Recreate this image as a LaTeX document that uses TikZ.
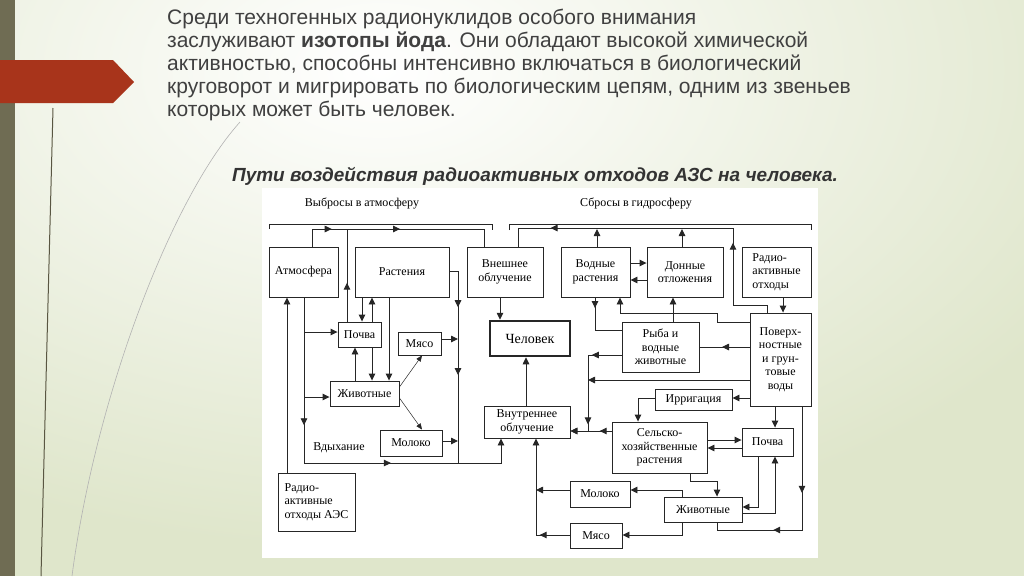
\documentclass[tikz,border=0pt]{standalone}
\usepackage{fontspec}
\setmainfont{Liberation Sans}
\newfontfamily\dgm{Liberation Serif}
\usetikzlibrary{arrows.meta,decorations.markings,calc}
\definecolor{bggreen}{HTML}{DFE6CB}
\definecolor{bandc}{HTML}{6F6C53}
\definecolor{redc}{HTML}{A8341B}
\definecolor{titlec}{HTML}{404040}
\newcommand\mybox[7][]{\node[box,#1,minimum width={(#5-#3)*1pt},minimum height={(#6-#4)*1pt}] (#2) at ({(#3+#5)/2},{(#4+#6)/2}) {#7};}
\tikzset{
 box/.style={draw=black!85, line width=0.9pt, fill=white, inner sep=0pt, font=\dgm\fontsize{12}{13.5}\selectfont, align=center},
 con/.style={color=black!85, line width=0.9pt},
 arr/.style={con, -{Triangle[length=7pt,width=6.5pt]}},
 tarr/.style={color=black!85, line width=0.5pt, -{Triangle[length=6pt,width=5pt]}},
 marr/.style={postaction={decorate,decoration={markings,mark=at position #1 with {\arrow{Triangle[length=7pt,width=6.5pt]}}}}},
 lbl/.style={font=\dgm\fontsize{12}{13.5}\selectfont, inner sep=0pt},
 ttl/.style={font=\fontsize{21}{23}\selectfont, text=titlec, inner sep=0pt, anchor=base west},
}
\begin{document}
\begin{tikzpicture}[x=1pt,y=-1pt]
\useasboundingbox (0,0) rectangle (1024,576);
% background
\fill[bggreen] (0,0) rectangle (1024,576);
\shade[inner color=white, outer color=bggreen] (380,70) ellipse [x radius=800, y radius=480];
\fill[bandc] (0,0) rectangle (15,576);
\fill[redc] (0,60) -- (113,60) -- (134,82) -- (113,103) -- (0,103) -- cycle;
\draw[bandc!80!black, line width=1pt] (53,108) -- (41,576);
\draw[black!30, line width=0.6pt] (240,122) .. controls (170,200) and (95,400) .. (72,576);
% title text
\node[ttl] (t1) at (167,24) {Среди техногенных радионуклидов особого внимания};
\node[ttl] (t2) at (167,47) {заслуживают \textbf{изотопы йода}. Они обладают высокой химической};
\node[ttl] (t3) at (167,70) {активностью, способны интенсивно включаться в биологический};
\node[ttl] (t4) at (167,93) {круговорот и мигрировать по биологическим цепям, одним из звеньев};
\node[ttl] (t5) at (167,116) {которых может быть человек.};
\node[font=\fontsize{19}{21}\selectfont\bfseries\itshape, text=black!80, inner sep=0pt] (sub) at (535,176) {Пути воздействия радиоактивных отходов АЗС на человека.};
% diagram panel
\fill[white] (262,188) rectangle (818,558);
\node[lbl] (lA) at (362,203) {Выбросы в атмосферу};
\node[lbl] (lG) at (636,203) {Сбросы в гидросферу};
\node[lbl] (lV) at (339,448) {Вдыхание};
\draw[con] (269,229) |- (492,224) -- (492,230);
\draw[con] (509,230) |- (811,224) -- (811,230);
% boxes
\mybox{atm}{269}{247}{338}{297}{Атмосфера}
\mybox{rast}{355}{247}{449}{297}{Растения}
\mybox{vnesh}{467}{247}{543}{297}{Внешнее\\облучение}
\mybox{vodn}{561}{247}{630}{297}{Водные\\растения}
\mybox{donn}{647}{247}{723}{297}{Донные\\отложения}
\mybox[align=left]{radw}{742}{247}{811}{297}{Радио-\\активные\\отходы}
\mybox{poch1}{338}{322}{381}{347}{Почва}
\mybox{mya1}{398}{332}{441}{355}{Мясо}
\mybox{zhi1}{330}{381}{399}{406}{Животные}
\mybox{mol1}{380}{430}{442}{456}{Молоко}
\mybox[line width=2.5pt, font=\dgm\fontsize{14}{16}\selectfont]{chel}{490}{321}{570}{356}{Человек}
\mybox{vnu}{484}{406}{570}{438}{Внутреннее\\облучение}
\mybox{ryba}{622}{322}{699}{372}{Рыба и\\водные\\животные}
\mybox{pov}{750}{313}{811}{406}{Поверх-\\ностные\\и грун-\\товые\\воды}
\mybox{irr}{655}{389}{732}{410}{Ирригация}
\mybox{sel}{612}{422}{707}{473}{Сельско-\\хозяйственные\\растения}
\mybox{poch2}{742}{428}{793}{456}{Почва}
\mybox{mol2}{570}{481}{630}{507}{Молоко}
\mybox{zhi2}{664}{497}{742}{522}{Животные}
\mybox{mya2}{570}{523}{622}{548}{Мясо}
\mybox[align=left]{aes}{278}{473}{355}{531}{Радио-\\активные\\отходы АЭС}
% connectors left part
\draw[con, marr=0.18, marr=0.51] (atm.north -| 312,0) |- (484,229) -- (vnesh.north -| 484,0);
\draw[con, marr=0.42] (poch1.north -| 347,0) -- (347,229);
\draw[arr] (rast.south -| 362,0) -- (poch1.north -| 362,0);
\draw[arr] (poch1.north -| 372,0) -- (rast.south -| 372,0);
\draw[arr] (poch1.south -| 372,0) -- (zhi1.north -| 372,0);
\draw[arr] (zhi1.north -| 355,0) -- (poch1.south -| 355,0);
\draw[arr] (rast.south -| 389,0) -- (zhi1.north -| 389,0);
\draw[arr] (aes.north -| 287,0) -- (atm.south -| 287,0);
\draw[con, marr=0.40, marr=0.79] (atm.south -| 304,0) -- (304,463) -- (458,463);
\draw[arr] (304,332) -- (poch1.west |- 0,332);
\draw[arr] (304,397) -- (zhi1.west |- 0,397);
\draw[arr, marr=0.167, marr=0.42] (rast.east |- 0,271) -| (458,463) -| (vnu.south -| 501,0);
\draw[arr] (mya1.east |- 0,339) -- (458,339);
\draw[arr] (mol1.east |- 0,441) -- (458,441);
\draw[tarr] (zhi1.east |- 0,387) -- (mya1.south -| 422,0);
\draw[tarr] (zhi1.east |- 0,398) -- (mol1.north -| 422,0);
% center
\draw[arr] (vnesh.south -| 500,0) -- (chel.north -| 500,0);
\draw[arr] (vnu.north -| 526,0) -- (chel.south -| 526,0);
% right part
\draw[con, marr=0.295, marr=0.855] (pov.north -| 767,0) -- (767,305) -| (733,228) -| (vnesh.north -| 518,0);
\draw[arr] (vodn.north -| 597,0) -- (597,229);
\draw[arr] (donn.north -| 682,0) -- (682,229);
\draw[arr] (vodn.east |- 0,263) -- (donn.west |- 0,263);
\draw[arr] (donn.west |- 0,280) -- (vodn.east |- 0,280);
\draw[arr] (radw.south -| 783,0) -- (pov.north -| 783,0);
\draw[con, marr=0.18] (vodn.south -| 595,0) |- (ryba.west |- 0,330);
\draw[arr] (pov.west |- 0,322) -| (717,313) -| (vodn.south -| 620,0);
\draw[arr] (ryba.north -| 673,0) -- (donn.south -| 673,0);
\draw[con, marr=0.55] (pov.west |- 0,347) -- (ryba.east |- 0,347);
\draw[arr, marr=0.234, marr=0.81] (ryba.west |- 0,355) -| (588,431) -- (vnu.east |- 0,431);
\draw[arr] (pov.west |- 0,380) -- (588,380);
\draw[arr] (pov.west |- 0,398) -- (irr.east |- 0,398);
\draw[arr] (irr.west |- 0,398) -| (sel.north -| 638,0);
\draw[arr, marr=0.29] (sel.west |- 0,431) -- (vnu.east |- 0,431);
\draw[arr] (pov.south -| 775,0) -- (poch2.north -| 775,0);
\draw[con, marr=0.40, marr=0.705] (pov.south -| 802,0) |- (717,530) -- (zhi2.south -| 717,0);
\draw[arr] (sel.east |- 0,440) -- (poch2.west |- 0,440);
\draw[arr] (poch2.west |- 0,448) -- (sel.east |- 0,448);
\draw[arr] (sel.south -| 690,0) |- (717,481) -- (zhi2.north -| 717,0);
\draw[arr] (poch2.south -| 758,0) |- (zhi2.east |- 0,507);
\draw[arr] (zhi2.east |- 0,513) -| (poch2.south -| 775,0);
\draw[arr] (zhi2.north -| 682,0) |- (mol2.east |- 0,490);
\draw[arr] (zhi2.south -| 682,0) |- (mya2.east |- 0,535);
\draw[arr] (mol2.west |- 0,490) -- (536,490);
\draw[arr, marr=0.23] (mya2.west |- 0,535) -| (vnu.south -| 536,0);
\end{tikzpicture}
\end{document}
